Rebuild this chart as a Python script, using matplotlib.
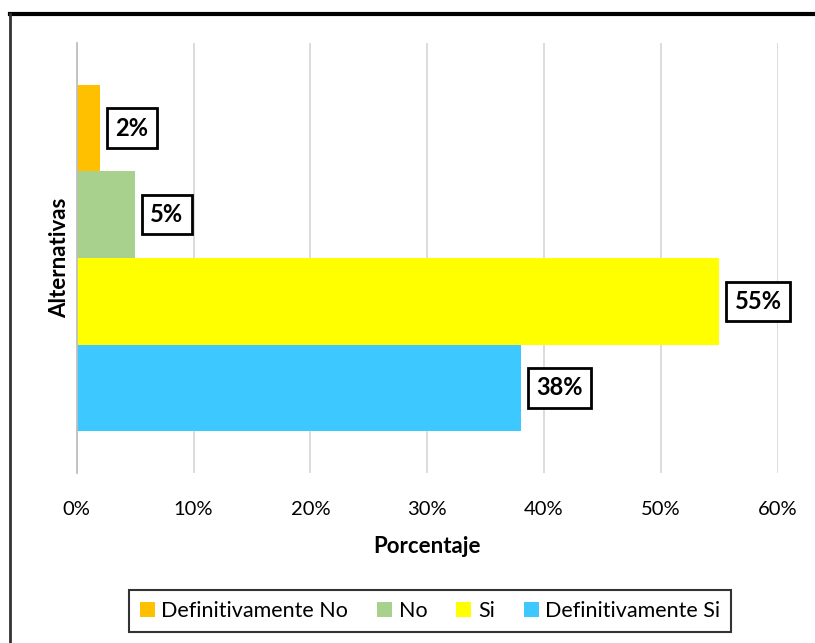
import matplotlib
matplotlib.use("Agg")
import matplotlib.pyplot as plt
from matplotlib.lines import Line2D
from matplotlib.ticker import FuncFormatter

plt.rcParams['font.family'] = ['Lato', 'DejaVu Sans']

# respuestas, de arriba hacia abajo en la barra agrupada
categorias = ['Definitivamente No', 'No', 'Si', 'Definitivamente Si']
porcentajes = [2, 5, 55, 38]
colores = ['#FFC000', '#A9D18E', '#FFFF00', '#3DC9FF']
ticks_x = [0, 10, 20, 30, 40, 50, 60]

W, H = 815, 643
fig = plt.figure(figsize=(W / 100, H / 100), dpi=100)
ax = fig.add_axes([76.7 / W, 1 - 473 / H, 701 / W, 430 / H])

n = len(categorias)
alto = 0.805 / n
for i, (cat, val, col) in enumerate(zip(categorias, porcentajes, colores)):
    y = (n - 1 - i - (n - 1) / 2) * alto
    ax.barh(y, val, height=alto, color=col, label=cat, zorder=3)
    ax.annotate(f'{val}%', xy=(val, y), xytext=(11, 0), textcoords='offset points',
                ha='left', va='center', fontsize=17, fontweight='bold', zorder=5,
                bbox=dict(boxstyle='square,pad=0.35', fc='white', ec='black', lw=2))

ax.set_xlim(0, 60)
ax.set_ylim(-0.5, 0.5)
ax.set_xticks(ticks_x)
ax.xaxis.set_major_formatter(FuncFormatter(lambda v, _: f'{v:.0f}%'))
ax.set_yticks([])
ax.tick_params(axis='x', length=0, labelsize=14.5, pad=20)
ax.grid(axis='x', color='#d9d9d9', lw=1.3, zorder=0)
for s in ['top', 'right', 'bottom']:
    ax.spines[s].set_visible(False)
ax.spines['left'].set_color('#bfbfbf')
ax.spines['left'].set_linewidth(1.3)
ax.spines['left'].set_zorder(4)

ax.set_xlabel('Porcentaje', fontsize=16, fontweight='bold', labelpad=13)
ax.set_ylabel('Alternativas', fontsize=16, fontweight='bold', labelpad=5)

leg = ax.legend(loc='center', bbox_to_anchor=(430 / W, 1 - 611 / H),
                bbox_transform=fig.transFigure, ncol=4, fontsize=15.5,
                frameon=True, fancybox=False, edgecolor='black',
                handlelength=0.7, handleheight=0.7, handletextpad=0.3,
                columnspacing=1.35, borderpad=0.5)
leg.get_frame().set_linewidth(1.5)

# marco exterior del grafico (solo lados superior e izquierdo visibles)
fig.add_artist(Line2D([10 / W, 1.0], [1 - 14 / H, 1 - 14 / H],
                      transform=fig.transFigure, color='black', lw=3))
fig.add_artist(Line2D([10 / W, 10 / W], [1 - 14 / H, 0.0],
                      transform=fig.transFigure, color='#333333', lw=2))

fig.savefig('out.png', dpi=100)
